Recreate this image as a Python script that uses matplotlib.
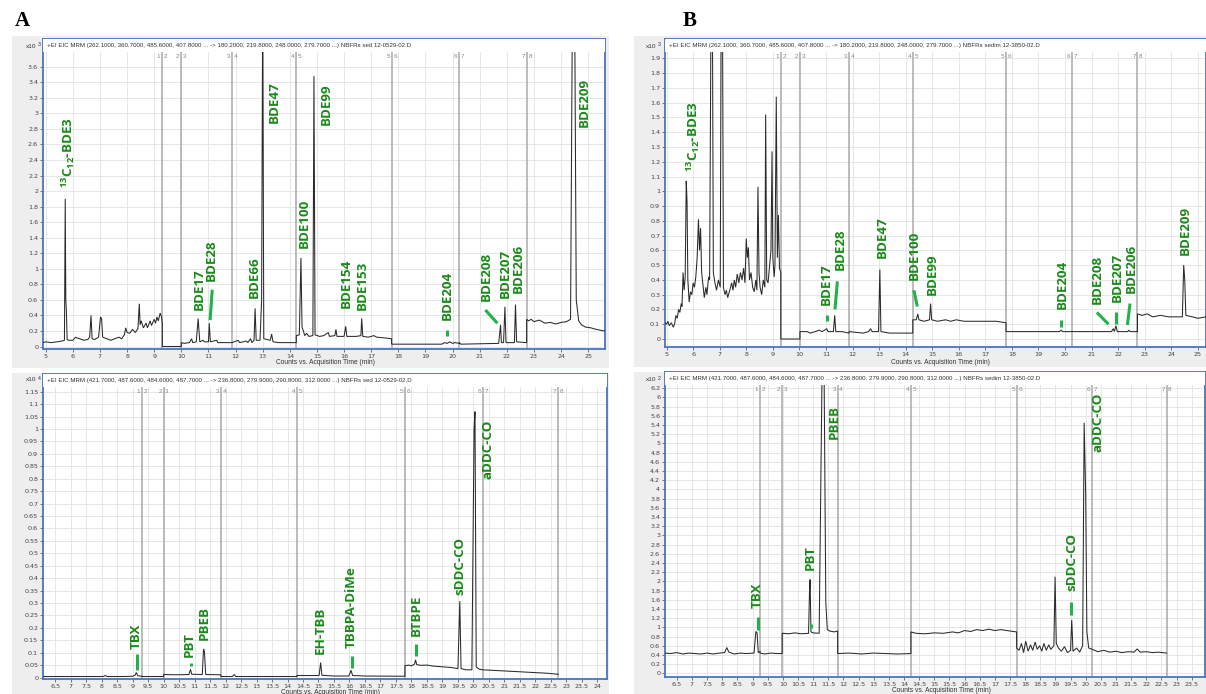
import numpy as np
import matplotlib
matplotlib.use("Agg")
import matplotlib.pyplot as plt
from matplotlib.patches import Rectangle

plt.rcParams['mathtext.fontset'] = 'custom'
plt.rcParams['mathtext.rm'] = 'Open Sans:bold'
plt.rcParams['mathtext.it'] = 'Open Sans:bold'
plt.rcParams['mathtext.bf'] = 'Open Sans:bold'

# ---------------- data: panel A, top (x10^3 counts) ----------------
a_top_t = [4.90, 5.00, 5.20, 5.40, 5.60, 5.69, 5.72, 5.74, 5.76, 5.79, 5.85, 6.00, 6.10, 6.15, 6.25, 6.40,
           6.55, 6.62, 6.67, 6.71, 6.80, 6.95, 7.02, 7.06, 7.10, 7.25, 7.40, 7.55, 7.70, 7.80, 7.90, 7.95,
           8.00, 8.10, 8.20, 8.30, 8.40, 8.45, 8.48, 8.52, 8.60, 8.70, 8.75, 8.85, 8.90, 9.00, 9.05, 9.10,
           9.15, 9.22, 9.27, 9.30,
           9.30, 10.00,
           10.00, 10.10, 10.30, 10.38, 10.42, 10.55, 10.62, 10.68, 10.80, 10.85, 11.00, 11.03, 11.07, 11.30,
           11.35, 11.60, 11.87,
           11.87, 12.10, 12.15, 12.40, 12.45, 12.55, 12.60, 12.68, 12.72, 12.76, 12.90, 12.96, 13.00, 13.04,
           13.28, 13.33, 13.38, 13.60, 14.00, 14.24,
           14.24, 14.35, 14.41, 14.45, 14.50, 14.55, 14.62, 14.70, 14.85, 14.89, 14.93, 15.10, 15.25, 15.42,
           15.46, 15.66, 15.70, 15.74, 16.00, 16.06, 16.10, 16.45, 16.62, 16.65, 16.69, 16.90, 17.10, 17.20,
           17.50, 17.75,
           17.75, 19.60, 19.70, 19.80, 19.90, 20.00, 20.10, 20.25,
           20.25, 20.30, 21.70, 21.77, 21.80, 21.88, 21.93, 21.97, 22.28, 22.32, 22.36, 22.73,
           22.73, 22.80, 22.90, 23.00, 23.20, 23.40, 23.60, 23.80, 24.00, 24.20, 24.35, 24.42, 24.50, 24.56,
           24.65, 24.75, 24.90, 25.10, 25.30, 25.60]
a_top_y = [0.05, 0.06, 0.05, 0.06, 0.07, 0.08, 1.90, 0.60, 0.48, 0.09, 0.08, 0.08, 0.12, 0.11, 0.10, 0.08,
           0.09, 0.12, 0.40, 0.10, 0.09, 0.12, 0.38, 0.36, 0.12, 0.10, 0.08, 0.10, 0.12, 0.10, 0.15, 0.24,
           0.18, 0.17, 0.22, 0.18, 0.23, 0.55, 0.28, 0.33, 0.24, 0.30, 0.24, 0.33, 0.27, 0.35, 0.30, 0.38,
           0.33, 0.43, 0.38, 0.30,
           0.00, 0.00,
           0.05, 0.04, 0.05, 0.10, 0.05, 0.06, 0.36, 0.06, 0.08, 0.06, 0.06, 0.30, 0.06, 0.08,
           0.05, 0.05, 0.05,
           0.05, 0.08, 0.05, 0.07, 0.05, 0.10, 0.05, 0.08, 0.49, 0.08, 0.08, 0.60, 4.50, 0.10,
           0.08, 0.16, 0.06, 0.05, 0.05, 0.05,
           0.14, 0.15, 1.14, 0.25, 0.20, 0.14, 0.17, 0.13, 0.14, 3.48, 0.15, 0.13, 0.14, 0.18,
           0.13, 0.14, 0.22, 0.13, 0.13, 0.26, 0.13, 0.13, 0.14, 0.36, 0.13, 0.12, 0.14, 0.12,
           0.11, 0.10,
           0.03, 0.03, 0.05, 0.04, 0.06, 0.04, 0.05, 0.04,
           0.05, 0.03, 0.04, 0.28, 0.05, 0.05, 0.51, 0.05, 0.05, 0.54, 0.06, 0.05,
           0.35, 0.33, 0.35, 0.32, 0.34, 0.30, 0.31, 0.29, 0.31, 0.32, 0.35, 4.50, 4.50, 0.60,
           0.33, 0.28, 0.25, 0.24, 0.22, 0.20]

# ---------------- data: panel B, top (x10^3 counts) ----------------
b_top_t = [4.94, 5.00, 5.05, 5.10, 5.18, 5.25, 5.30, 5.35, 5.40, 5.45, 5.50, 5.55, 5.58, 5.62, 5.66, 5.70,
           5.74, 5.77, 5.80, 5.85, 5.90, 5.95, 6.00, 6.05, 6.10, 6.15, 6.20, 6.24, 6.28, 6.32, 6.38, 6.42,
           6.48, 6.52, 6.58, 6.62, 6.68, 6.72, 6.76, 6.82, 6.88, 6.95, 7.02, 7.06, 7.10, 7.14, 7.20, 7.25,
           7.30, 7.38, 7.45, 7.50, 7.55, 7.60, 7.66, 7.72, 7.78, 7.84, 7.90, 7.95, 8.00, 8.04, 8.08, 8.12,
           8.18, 8.24, 8.30, 8.36, 8.40, 8.44, 8.48, 8.52, 8.58, 8.64, 8.70, 8.73, 8.77, 8.82, 8.88, 8.93,
           8.97, 9.00, 9.05, 9.08, 9.13, 9.17, 9.21, 9.25, 9.30,
           9.30, 10.02,
           10.02, 10.30, 10.40, 10.60, 10.75, 10.85, 10.95, 11.03, 11.08, 11.28, 11.33, 11.37, 11.60, 11.87,
           11.87, 12.40, 12.60, 12.68, 12.74, 12.98, 13.03, 13.07, 13.40, 14.27,
           14.27, 14.40, 14.46, 14.50, 14.70, 14.90, 14.94, 14.98, 15.20, 15.50, 15.70, 15.90, 16.20, 16.60,
           17.00, 17.40, 17.78,
           17.78, 19.80, 19.85, 19.92, 20.28,
           20.28, 21.75, 21.82, 21.86, 21.92, 21.97, 22.36, 22.40, 22.45, 22.73,
           22.73, 22.90, 23.10, 23.30, 23.60, 23.90, 24.20, 24.42, 24.47, 24.51, 24.55, 24.80, 25.00, 25.30]
b_top_y = [0.11, 0.10, 0.12, 0.09, 0.11, 0.08, 0.10, 0.16, 0.14, 0.20, 0.18, 0.24, 0.22, 0.45, 0.33, 0.42,
           1.07, 0.93, 0.40, 0.25, 0.32, 0.30, 0.38, 0.35, 0.42, 0.55, 0.81, 0.60, 0.75, 0.45, 0.35, 0.28,
           0.35, 0.30, 0.42, 0.40, 2.50, 2.50, 0.45, 0.38, 0.33, 0.40, 0.35, 2.50, 2.50, 0.35, 0.30, 0.33,
           0.28, 0.33, 0.38, 0.33, 0.40, 0.35, 0.44, 0.38, 0.45, 0.40, 0.48, 0.38, 0.68, 0.55, 0.62, 0.40,
           0.45, 0.35, 0.32, 0.40, 0.33, 1.03, 0.45, 0.35, 0.30, 0.40, 0.35, 1.52, 0.40, 0.38, 0.50, 0.60,
           1.27, 0.55, 0.42, 0.50, 1.64, 0.55, 0.84, 0.48, 0.45,
           0.00, 0.00,
           0.05, 0.05, 0.04, 0.05, 0.06, 0.05, 0.06, 0.07, 0.05, 0.05, 0.16, 0.05, 0.05, 0.04,
           0.05, 0.04, 0.05, 0.07, 0.05, 0.05, 0.47, 0.05, 0.04, 0.04,
           0.13, 0.13, 0.17, 0.13, 0.12, 0.13, 0.24, 0.13, 0.12, 0.13, 0.12, 0.13, 0.12, 0.12,
           0.12, 0.12, 0.11,
           0.05, 0.05, 0.06, 0.05, 0.05,
           0.05, 0.05, 0.07, 0.05, 0.09, 0.05, 0.05, 0.06, 0.05, 0.05,
           0.17, 0.16, 0.17, 0.15, 0.16, 0.15, 0.15, 0.15, 0.50, 0.40, 0.16, 0.15, 0.14, 0.15]

# ---------------- data: panel A, bottom (x10^4 counts) ----------------
a_bot_t = [6.11, 8.05, 8.12, 8.18, 8.70, 9.00, 9.08, 9.12, 9.17, 9.30,
           9.30, 10.00,
           10.00, 10.40, 10.82, 10.87, 10.91, 11.25, 11.29, 11.32, 11.36, 11.85,
           11.85, 12.22, 12.28, 12.33, 14.30,
           14.30, 15.02, 15.07, 15.11, 15.50, 15.98, 16.05, 16.10, 16.50, 17.79,
           17.79, 17.90, 18.00, 18.10, 18.13, 18.17, 18.30, 18.50, 18.70, 18.90, 19.10, 19.30, 19.50, 19.56,
           19.60, 19.75, 19.95, 20.02, 20.05, 20.09, 20.20, 20.30,
           20.30, 20.60, 20.90, 21.20, 21.50, 21.80, 22.10, 22.40, 22.74]
a_bot_y = [0.004, 0.004, 0.008, 0.004, 0.004, 0.005, 0.009, 0.020, 0.007, 0.005,
           0.004, 0.004,
           0.012, 0.011, 0.012, 0.033, 0.013, 0.012, 0.115, 0.104, 0.012, 0.011,
           0.004, 0.004, 0.012, 0.004, 0.004,
           0.008, 0.008, 0.060, 0.009, 0.006, 0.006, 0.029, 0.008, 0.006, 0.005,
           0.047, 0.050, 0.047, 0.054, 0.071, 0.052, 0.049, 0.050, 0.046, 0.044, 0.042, 0.040, 0.036, 0.307,
           0.036, 0.031, 0.031, 1.000, 1.070, 0.042, 0.033, 0.031,
           0.031, 0.029, 0.027, 0.025, 0.023, 0.021, 0.019, 0.017, 0.013]

# ---------------- data: panel B, bottom (x10^2 counts) ----------------
b_bot_t = [6.11, 6.30, 6.50, 6.70, 6.90, 7.10, 7.30, 7.50, 7.70, 7.90, 8.08, 8.15, 8.22, 8.40, 8.60, 8.80,
           9.05, 9.11, 9.15, 9.19, 9.25,
           9.25, 9.40, 9.60, 9.80, 9.98,
           9.98, 10.20, 10.40, 10.60, 10.85, 10.88, 10.90, 10.93, 11.00, 11.20, 11.30, 11.36, 11.42, 11.47,
           11.55, 11.70, 11.81,
           11.81, 12.20, 12.60, 13.00, 13.40, 13.80, 14.23,
           14.23, 14.40, 14.70, 15.00, 15.30, 15.60, 15.80, 16.00, 16.20, 16.40, 16.60, 16.80, 17.00, 17.20,
           17.50, 17.72,
           17.72, 17.80, 17.88, 17.95, 18.02, 18.10, 18.18, 18.25, 18.33, 18.40, 18.48, 18.55, 18.62, 18.70,
           18.78, 18.85, 18.95, 18.99, 19.03, 19.10, 19.20, 19.30, 19.40, 19.50, 19.54, 19.58, 19.70, 19.80,
           19.90, 19.95, 20.00, 20.04, 20.10, 20.22,
           20.22, 20.40, 20.60, 20.80, 21.00, 21.20, 21.40, 21.60, 21.70, 21.80, 22.00, 22.20, 22.40, 22.67]
b_bot_y = [0.44, 0.43, 0.45, 0.42, 0.44, 0.43, 0.42, 0.44, 0.42, 0.44, 0.45, 0.56, 0.46, 0.42, 0.44, 0.43,
           0.44, 0.91, 0.88, 0.45, 0.48,
           0.44, 0.42, 0.44, 0.43, 0.43,
           0.87, 0.86, 0.88, 0.86, 0.87, 1.75, 2.04, 0.90, 0.88, 0.87, 6.80, 6.80, 1.52, 0.95,
           0.92, 0.90, 0.92,
           0.43, 0.44, 0.42, 0.44, 0.43, 0.42, 0.43,
           0.90, 0.87, 0.86, 0.88, 0.87, 0.90, 0.88, 0.93, 0.91, 0.95, 0.93, 0.96, 0.93, 0.95,
           0.92, 0.90,
           0.55, 0.50, 0.65, 0.45, 0.70, 0.48, 0.62, 0.50, 0.68, 0.52, 0.60, 0.48, 0.65, 0.50,
           0.62, 0.52, 0.60, 2.10, 0.65, 0.55, 0.48, 0.58, 0.45, 0.50, 1.16, 0.48, 0.55, 0.46,
           0.60, 5.45, 3.90, 0.90, 0.55, 0.52,
           0.52, 0.47, 0.50, 0.46, 0.48, 0.45, 0.47, 0.46, 0.53, 0.46, 0.47, 0.45, 0.46, 0.44]

# ---------------- segment boundaries ----------------
a_top_seg = [9.28, 10.00, 11.87, 14.24, 17.75, 20.25, 22.73]
b_top_seg = [9.30, 10.02, 11.87, 14.27, 17.78, 20.28, 22.73]
a_bot_seg = [9.30, 10.00, 11.85, 14.30, 17.79, 20.30, 22.74]
b_bot_seg = [9.25, 9.98, 11.81, 14.23, 17.72, 20.22, 22.67]

# ---------------- compound labels ----------------
a_top_lbl = ['$^{13}$C$_{12}$-BDE3', 'BDE17', 'BDE28', 'BDE66', 'BDE47', 'BDE100', 'BDE99', 'BDE154',
             'BDE153', 'BDE204', 'BDE208', 'BDE207', 'BDE206', 'BDE209']
a_top_lx = [5.83, 10.66, 11.12, 12.68, 13.43, 14.52, 15.33, 16.07, 16.67, 19.82, 21.23, 21.95, 22.44, 24.84]
a_top_ly = [2.04, 0.47, 0.84, 0.62, 2.88, 1.27, 2.85, 0.49, 0.47, 0.34, 0.58, 0.62, 0.69, 2.82]
a_top_mk = [((11.14, 0.73), (11.06, 0.34)), ((19.81, 0.21), (19.81, 0.13)), ((21.21, 0.47), (21.65, 0.30))]

b_top_lbl = ['$^{13}$C$_{12}$-BDE3', 'BDE17', 'BDE28', 'BDE47', 'BDE100', 'BDE99', 'BDE204', 'BDE208',
             'BDE207', 'BDE206', 'BDE209']
b_top_lx = [6.00, 11.03, 11.55, 13.12, 14.31, 15.00, 19.88, 21.23, 21.97, 22.51, 24.52]
b_top_ly = [1.13, 0.23, 0.47, 0.55, 0.40, 0.30, 0.20, 0.24, 0.25, 0.31, 0.57]
b_top_mk = [((11.04, 0.16), (11.04, 0.12)), ((11.43, 0.39), (11.34, 0.20)), ((14.31, 0.33), (14.44, 0.22)),
            ((19.84, 0.13), (19.84, 0.08)), ((21.20, 0.18), (21.64, 0.10)), ((21.92, 0.18), (21.92, 0.10)),
            ((22.45, 0.24), (22.35, 0.095))]

a_bot_lbl = ['TBX', 'PBT', 'PBEB', 'EH-TBB', 'TBBPA-DiMe', 'BTBPE', 'sDDC-CO', 'aDDC-CO']
a_bot_lx = [9.11, 10.82, 11.31, 15.07, 16.07, 18.14, 19.57, 20.46]
a_bot_ly = [0.114, 0.083, 0.151, 0.094, 0.118, 0.166, 0.333, 0.80]
a_bot_mk = [((9.13, 0.094), (9.13, 0.031)), ((10.87, 0.059), (10.87, 0.047)),
            ((16.07, 0.087), (16.07, 0.037)), ((18.14, 0.135), (18.14, 0.087))]

b_bot_lbl = ['TBX', 'PBT', 'PBEB', 'sDDC-CO', 'aDDC-CO']
b_bot_lx = [9.14, 10.90, 11.69, 19.56, 20.41]
b_bot_ly = [1.41, 2.25, 5.10, 1.78, 4.81]
b_bot_mk = [((9.17, 1.23), (9.17, 0.94)), ((10.92, 1.08), (10.92, 0.98)), ((19.52, 1.56), (19.52, 1.27))]

hdr_top = '+EI EIC MRM (262.1000, 360.7000, 485.6000, 407.8000 ... -> 180.2000, 219.8000, 248.0000, 279.7000 ...) NBFRs '
hdr_bot = '+EI EIC MRM (421.7000, 487.6000, 484.6000, 487.7000 ... -> 236.8000, 279.9000, 290.8000, 312.0000 ...) NBFRs '

# ---------------- figure ----------------
W, H = 1206, 694
fig = plt.figure(figsize=(W / 100, H / 100), dpi=100)
fig.patch.set_facecolor('white')


def fig_rect(l, t, r, b, **kw):
    fig.patches.append(Rectangle((l / W, 1 - b / H), (r - l) / W, (b - t) / H,
                                 transform=fig.transFigure, **kw))


# gray windows
for (l, t, r, b) in [(12, 36, 609, 368), (12, 373, 609, 694), (634, 36, 1206, 367), (634, 372, 1206, 694)]:
    fig_rect(l, t, r, b, facecolor='#eeeeee', edgecolor='none', zorder=-10)

fig.text(15 / W, 1 - 21 / H, 'A', family='Liberation Serif', weight='bold', fontsize=15, va='center')
fig.text(683 / W, 1 - 21 / H, 'B', family='Liberation Serif', weight='bold', fontsize=15, va='center')

BLUE = '#4a74c2'
GREEN_T = '#1a8a1a'
GREEN_L = '#22b24a'


def panel(box, xlim, y0px, ppu, t, y, seg, lbl, lx, ly, mk, xticks, yticks, hdr, mult, exp_xy, xlab_xy):
    l, tp, r, b = box
    ax = fig.add_axes([l / W, 1 - b / H, (r - l) / W, (b - tp) / H])
    ax.set_zorder(5)
    ax.set_xlim(*xlim)
    ax.set_ylim(-(b - y0px) / ppu, (y0px - tp) / ppu)
    ax.set_facecolor('white')
    ax.plot(t, y, color='#2a2a2a', lw=0.75, zorder=3, solid_joinstyle='miter')
    ax.set_xticks(xticks)
    ax.set_xticklabels(['%g' % v for v in xticks])
    ax.set_yticks(yticks)
    ax.set_yticklabels(['%g' % round(v, 3) for v in yticks])
    ax.grid(True, color='#e2e2e2', lw=0.6, zorder=0)
    ax.set_axisbelow(True)
    ax.tick_params(labelsize=4.6, length=2.5, width=0.5, colors='#444444', pad=1.0)
    for s in ax.spines.values():
        s.set_color(BLUE)
        s.set_linewidth(1.3)
    hf = 13 / (b - tp)
    ax.add_patch(Rectangle((0, 1 - hf), 1, hf, transform=ax.transAxes, facecolor='white',
                           edgecolor='none', zorder=6))
    ax.text(4 / (r - l), 1 - hf / 2, hdr, transform=ax.transAxes, fontsize=4.4, family='Liberation Sans',
            color='#333333', va='center', ha='left', zorder=7)
    for i, s in enumerate(seg):
        ax.axvline(s, ymax=1 - hf, color='#a9a9a9', lw=1.1, zorder=2)
        ytxt = 1 - hf - 4.5 / (b - tp)
        ax.annotate(str(i + 1), (s, ytxt), xycoords=('data', 'axes fraction'), xytext=(-1.2, 0),
                    textcoords='offset points', ha='right', va='center', fontsize=4.6, color='#888888',
                    family='Liberation Sans', zorder=4)
        ax.annotate(str(i + 2), (s, ytxt), xycoords=('data', 'axes fraction'), xytext=(1.2, 0),
                    textcoords='offset points', ha='left', va='center', fontsize=4.6, color='#888888',
                    family='Liberation Sans', zorder=4)
    for s_, x_, y_ in zip(lbl, lx, ly):
        ax.text(x_, y_, s_, rotation=90, rotation_mode='anchor', ha='left', va='center', fontsize=9.6,
                family='Open Sans', weight='bold', color=GREEN_T, zorder=5)
    for (p0, p1) in mk:
        ax.plot([p0[0], p1[0]], [p0[1], p1[1]], color=GREEN_L, lw=2.2, solid_capstyle='butt', zorder=5)
    fig.text(exp_xy[0] / W, 1 - exp_xy[1] / H, 'x10', fontsize=4.6, family='Liberation Sans',
             color='#333333', ha='right', va='center')
    fig.text((exp_xy[0] + 2) / W, 1 - (exp_xy[1] - 1.5) / H, mult, fontsize=3.8, family='Liberation Sans',
             color='#333333', ha='left', va='center')
    fig.text(xlab_xy[0] / W, 1 - xlab_xy[1] / H, 'Counts vs. Acquisition Time (min)', fontsize=4.8,
             family='Liberation Sans', color='#333333', ha='center', va='center')
    return ax


panel((43, 39, 605, 349), (4.90, 25.62), 346.5, 77.7, a_top_t, a_top_y, a_top_seg, a_top_lbl, a_top_lx,
      a_top_ly, a_top_mk, np.arange(5, 26, 1), np.arange(0, 3.61, 0.2), hdr_top + 'sed 12-0529-02.D', '3',
      (36, 46), (325, 363))
panel((665, 39, 1206, 347), (4.94, 25.31), 339, 147.7, b_top_t, b_top_y, b_top_seg, b_top_lbl, b_top_lx,
      b_top_ly, b_top_mk, np.arange(5, 26, 1), np.arange(0, 1.91, 0.1), hdr_top + 'sedim 12-3850-02.D', '3',
      (656, 46), (940, 362))
panel((43, 374, 607, 679), (6.11, 24.31), 677.5, 248.5, a_bot_t, a_bot_y, a_bot_seg, a_bot_lbl, a_bot_lx,
      a_bot_ly, a_bot_mk, np.arange(6.5, 24.01, 0.5), np.arange(0, 1.151, 0.05), hdr_bot + 'sed 12-0529-02.D',
      '4', (36, 380), (330, 692.5))
panel((665, 372, 1205, 677), (6.11, 23.94), 673.3, 45.97, b_bot_t, b_bot_y, b_bot_seg, b_bot_lbl, b_bot_lx,
      b_bot_ly, b_bot_mk, np.arange(6.5, 23.51, 0.5), np.arange(0, 6.21, 0.2), hdr_bot + 'sedim 12-3850-02.D',
      '2', (656, 380), (941, 690))

fig.savefig('out.png', dpi=100)
